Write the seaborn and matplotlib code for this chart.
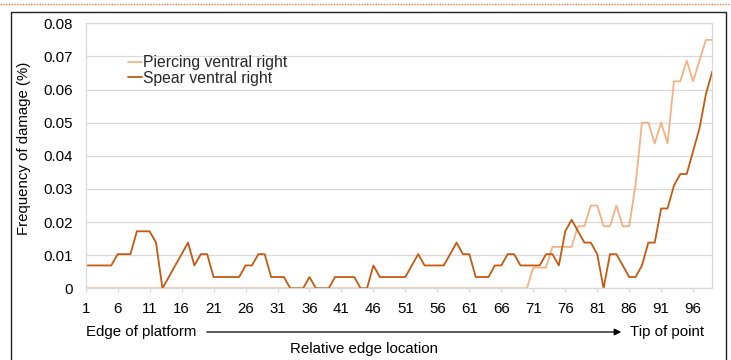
import numpy as np
import pandas as pd
import seaborn as sns
import matplotlib
matplotlib.use("Agg")
import matplotlib.pyplot as plt
from matplotlib.lines import Line2D

# Relative edge location (1 = edge of platform, 99 = tip of point)
locations = list(range(1, 100))

piercing_ventral_right = (
    [0.0] * 70
    + [0.00625, 0.00625, 0.00625,
       0.0125, 0.0125, 0.0125, 0.0125,
       0.01875, 0.01875, 0.025, 0.025, 0.01875, 0.01875, 0.025,
       0.01875, 0.01875, 0.03125, 0.05, 0.05, 0.04375, 0.05, 0.04375,
       0.0625, 0.0625, 0.06875, 0.0625, 0.06875, 0.075, 0.075]
)

spear_ventral_right = [
    0.0069, 0.0069, 0.0069, 0.0069, 0.0069, 0.0103, 0.0103, 0.0103, 0.0172, 0.0172,
    0.0172, 0.0138, 0.0, 0.0034, 0.0069, 0.0103, 0.0138, 0.0069, 0.0103, 0.0103,
    0.0034, 0.0034, 0.0034, 0.0034, 0.0034, 0.0069, 0.0069, 0.0103, 0.0103, 0.0034,
    0.0034, 0.0034, 0.0, 0.0, 0.0, 0.0034, 0.0, 0.0, 0.0, 0.0034,
    0.0034, 0.0034, 0.0034, 0.0, 0.0, 0.0069, 0.0034, 0.0034, 0.0034, 0.0034,
    0.0034, 0.0069, 0.0103, 0.0069, 0.0069, 0.0069, 0.0069, 0.0103, 0.0138, 0.0103,
    0.0103, 0.0034, 0.0034, 0.0034, 0.0069, 0.0069, 0.0103, 0.0103, 0.0069, 0.0069,
    0.0069, 0.0069, 0.0103, 0.0103, 0.0069, 0.0172, 0.0207, 0.0172, 0.0138, 0.0138,
    0.0103, 0.0, 0.0103, 0.0103, 0.0069, 0.0034, 0.0034, 0.0069, 0.0138, 0.0138,
    0.0241, 0.0241, 0.0310, 0.0345, 0.0345, 0.0414, 0.0483, 0.0586, 0.0655,
]

series_names = ["Piercing ventral right", "Spear ventral right"]
series_colors = ["#F4B183", "#C55A11"]
x_ticks = list(range(1, 100, 5))
y_ticks = [0, 0.01, 0.02, 0.03, 0.04, 0.05, 0.06, 0.07, 0.08]
y_tick_labels = ["0", "0.01", "0.02", "0.03", "0.04", "0.05", "0.06", "0.07", "0.08"]

df = pd.DataFrame({
    "location": locations * 2,
    "frequency": piercing_ventral_right + spear_ventral_right,
    "series": [series_names[0]] * len(locations) + [series_names[1]] * len(locations),
})

sns.set_theme(style="white")
plt.rcParams["font.family"] = ["Liberation Sans", "DejaVu Sans"]

W, H = 731, 360
fs = 10.8
fig = plt.figure(figsize=(W / 100, H / 100), dpi=100)
left, right, top, bottom = 85.7, 712.3, 23.3, 288.3
ax = fig.add_axes([left / W, 1 - bottom / H, (right - left) / W, (bottom - top) / H])

sns.lineplot(data=df, x="location", y="frequency", hue="series",
             palette=dict(zip(series_names, series_colors)),
             linewidth=1.3, ax=ax, legend=False)

ax.set_xlim(1, 99)
ax.set_ylim(0, 0.08)
ax.set_xticks(x_ticks)
ax.set_xticklabels([str(t) for t in x_ticks])
ax.set_yticks(y_ticks)
ax.set_yticklabels(y_tick_labels)
ax.yaxis.grid(True, color="#D9D9D9", linewidth=0.9)
ax.set_axisbelow(True)
for s in ax.spines.values():
    s.set_color("#D9D9D9")
    s.set_linewidth(0.9)
ax.tick_params(axis="x", length=3, color="#D9D9D9", width=0.9, pad=7,
               labelsize=fs, labelcolor="black", bottom=True)
ax.tick_params(axis="y", length=0, pad=9, labelsize=fs, labelcolor="black")
ax.set_xlabel("")
ax.set_ylabel("")

# legend
handles = [Line2D([], [], color=c, linewidth=1.3) for c in series_colors]
ax.legend(handles, series_names, loc="upper left",
          bbox_to_anchor=(128 / W, 1 - 55 / H), bbox_transform=fig.transFigure,
          frameon=False, fontsize=11.3, handlelength=0.9, handletextpad=0.08,
          labelspacing=0.05, borderpad=0, borderaxespad=0)

# axis titles
fig.text(24 / W, 1 - 148 / H, "Frequency of damage (%)", rotation=90,
         ha="center", va="center", fontsize=fs, color="black")
fig.text(86 / W, 1 - 332 / H, "Edge of platform", ha="left", va="center",
         fontsize=fs, color="black")
fig.text(630 / W, 1 - 332 / H, "Tip of point", ha="left", va="center",
         fontsize=fs, color="black")
fig.text(364 / W, 1 - 349 / H, "Relative edge location", ha="center", va="center",
         fontsize=fs, color="black")
fig.add_artist(matplotlib.patches.FancyArrowPatch(
    (204 / W, 1 - 332 / H), (624 / W, 1 - 332 / H), transform=fig.transFigure,
    arrowstyle="-|>,head_length=4,head_width=2", mutation_scale=1,
    color="black", linewidth=0.9))

# chart frame and dotted rule above it
fig.add_artist(Line2D([11 / W, 11 / W, 726 / W, 726 / W], [0, 1 - 12 / H, 1 - 12 / H, 0],
                      transform=fig.transFigure, color="#222222", linewidth=1.0))
fig.add_artist(Line2D([0, 1], [1 - 3.5 / H, 1 - 3.5 / H], transform=fig.transFigure,
                      color="#E07B39", linewidth=1.0, linestyle=(0, (1, 1))))

fig.savefig("out.png", dpi=100, facecolor="white")
